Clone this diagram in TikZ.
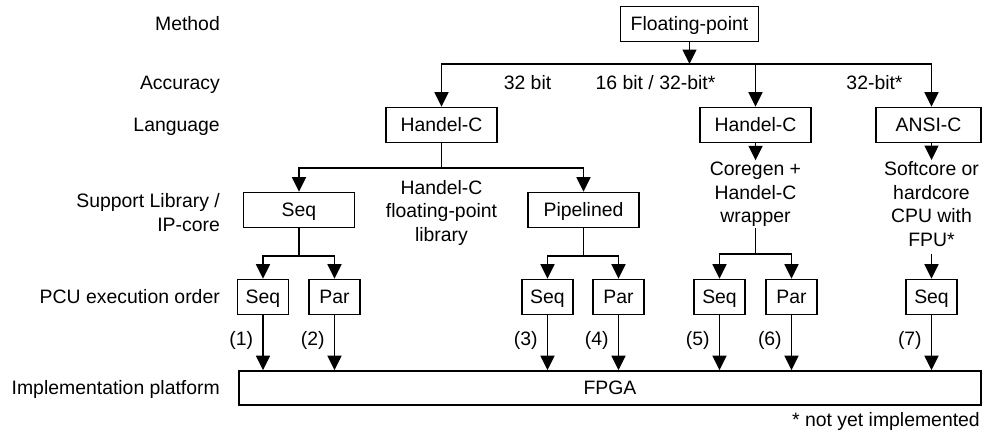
\documentclass[tikz,border=0pt]{standalone}
\usepackage{fontspec}
\setmainfont{Liberation Sans}
\usetikzlibrary{arrows.meta}
\tikzset{
  lw/.style={line width=1.6pt},
  arr/.style={lw,-{Triangle[length=14.5pt,width=14pt]}},
  txt/.style={font=\fontsize{19.4}{23.5}\selectfont, inner sep=0pt, text height=13.9pt, text depth=0pt},
  mtxt/.style={font=\fontsize{19.4}{23.5}\selectfont, inner sep=1.5pt, align=center},
  box/.style={txt, draw, lw, minimum height=35pt},
  wbox/.style={box, minimum width=111pt},
  sbox/.style={box, minimum width=51pt},
  side/.style={txt, anchor=east},
}
\begin{document}
\begin{tikzpicture}[x=1pt,y=-1pt]
\useasboundingbox (0,0) rectangle (982,434);
% left column labels
\node[side] (lm) at (220,24) {Method};
\node[side] (la) at (220,83) {Accuracy};
\node[side] (ll) at (220,125) {Language};
\node[font=\fontsize{19.4}{23.5}\selectfont, inner sep=0pt, align=right, anchor=east] (ls) at (220,212.8) {Support Library /\\IP-core};
\node[side] (lp) at (220,297) {PCU execution order};
\node[side] (li) at (220,388) {Implementation platform};
% method
\node[box, minimum width=138pt] (fp) at (689.5,24) {Floating-point};
\coordinate (jtop) at (689.5,64);
% accuracy labels
\node[txt] (a1) at (527.5,83) {32 bit};
\node[txt] (a2) at (655.5,83) {16 bit / 32-bit*};
\node[txt] (a3) at (874.5,83) {32-bit*};
% language
\node[wbox] (hc1) at (441.5,125) {Handel-C};
\node[wbox] (hc2) at (755.5,125) {Handel-C};
\node[box, minimum width=105pt] (ansi) at (928.5,125) {ANSI-C};
\coordinate (ja) at (931.5,64);
% support library
\coordinate (j1) at (441.5,168);
\node[wbox] (lib) at (299,210) {Seq};
\node[wbox] (pipe) at (583.5,210) {Pipelined};
\node[mtxt, inner sep=0pt] (hclib) at (441.5,212.5) {Handel-C\\floating-point\\library};
\node[mtxt] (core) at (755.5,194.3) {Coregen +\\Handel-C\\wrapper};
\node[mtxt] (soft) at (931.5,204.1) {Softcore or\\hardcore\\CPU with\\FPU*};
% execution order
\node[sbox] (s1) at (263,297) {Seq};
\node[sbox] (p2) at (334.5,297) {Par};
\node[sbox] (s3) at (547.5,297) {Seq};
\node[sbox] (p4) at (618.5,297) {Par};
\node[sbox] (s5) at (719.5,297) {Seq};
\node[sbox] (p6) at (791.5,297) {Par};
\node[sbox] (s7) at (931.5,297) {Seq};
% platform
\node[box, minimum width=742pt, minimum height=34pt] (fpga) at (610,388) {FPGA};
\node[txt, anchor=east] (note) at (980,420) {* not yet implemented};
% junctions
\coordinate (j2) at (299,256);
\coordinate (j3) at (583.5,256);
\coordinate (j4) at (755.5,254);
% connectors
\draw[arr] (fp.south) -- (jtop);
\draw[lw] (hc1.north |- jtop) -- (ja);
\draw[arr] (jtop) -| (hc1.north);
\draw[arr] (hc2.north |- jtop) -- (hc2.north);
\draw[arr] (ja) -- (ja |- ansi.north);
\draw[lw] (hc1.south) -- (j1);
\draw[arr] (j1) -| (lib.north);
\draw[arr] (j1) -| (pipe.north);
\draw[arr] (hc2) -- (core);
\draw[arr] (ja |- ansi.south) -- (soft.north);
\draw[lw] (lib.south) -- (j2);
\draw[arr] (j2) -| (s1.north);
\draw[arr] (j2) -| (p2.north);
\draw[lw] (pipe.south) -- (j3);
\draw[arr] (j3) -| (s3.north);
\draw[arr] (j3) -| (p4.north);
\draw[lw] (core.south) -- (j4);
\draw[arr] (j4) -| (s5.north);
\draw[arr] (j4) -| (p6.north);
\draw[arr, shorten <=6pt] (soft.south) -- (s7.north);
\foreach \n/\l in {s1/(1),p2/(2),s3/(3),p4/(4),s5/(5),p6/(6),s7/(7)}{
  \draw[arr] (\n.south) -- node[txt, pos=0.42, left=9pt] {\l} (\n.south |- fpga.north);
}
\end{tikzpicture}
\end{document}
